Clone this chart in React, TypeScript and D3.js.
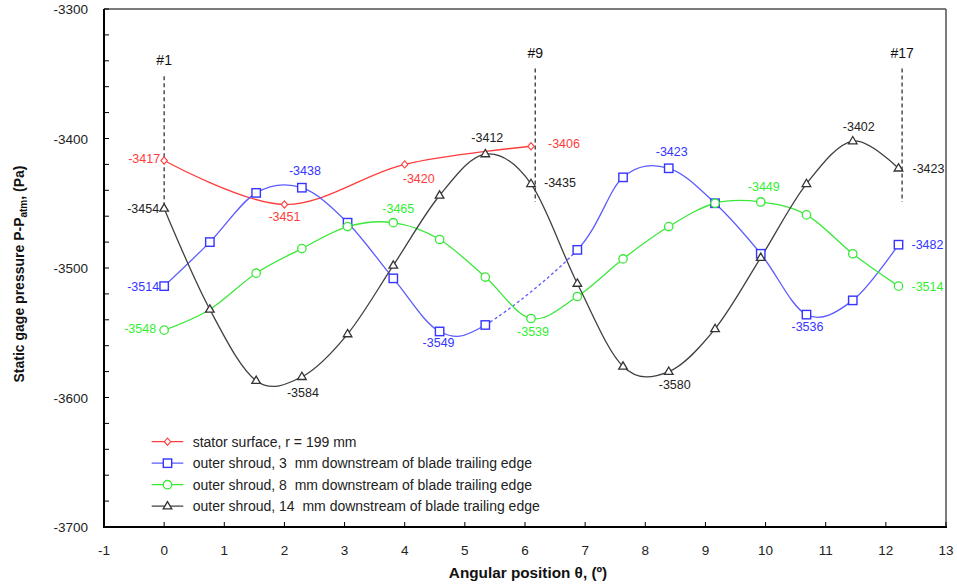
import React from "react";
import * as d3 from "d3";

// ---------- data ----------
const positions = [0, 0.76, 1.53, 2.29, 3.05, 3.81, 4.58, 5.34, 6.1, 6.87, 7.63, 8.39, 9.16, 9.92, 10.68, 11.45, 12.21];
const statorX = [0, 2.0, 4.0, 6.1];
const statorValues = [-3417, -3451, -3420, -3406];
const shroud3Values: (number | null)[] = [-3514, -3480, -3442, -3438, -3465, -3508, -3549, -3544, null, -3486, -3430, -3423, -3450, -3489, -3536, -3525, -3482];
const shroud8Values: (number | null)[] = [-3548, -3532, -3504, -3485, -3468, -3465, -3478, -3507, -3539, -3522, -3493, -3468, -3450, -3449, -3459, -3489, -3514];
const shroud14Values: (number | null)[] = [-3454, -3532, -3587, -3584, -3551, -3498, -3444, -3412, -3435, -3512, -3576, -3580, -3547, -3492, -3435, -3402, -3423];

const seriesNames = [
  "stator surface, r = 199 mm",
  "outer shroud, 3  mm downstream of blade trailing edge",
  "outer shroud, 8  mm downstream of blade trailing edge",
  "outer shroud, 14  mm downstream of blade trailing edge",
];

const xTicks = [-1, 0, 1, 2, 3, 4, 5, 6, 7, 8, 9, 10, 11, 12, 13];
const yTickLabels = [-3300, -3400, -3500, -3600, -3700];

// probe reference lines
const probeLabels = ["#1", "#9", "#17"];
const probeX = [0, 6.17, 12.27];
const probeTop = [-3352, -3346, -3346];
const probeBottom = [-3451, -3449, -3449];

// ---------- layout / style ----------
const W = 957, H = 588;
const L = 104, R = 946, T = 9, B = 527;
const FONT = "'Liberation Sans', Arial, Helvetica, sans-serif";
const RED = "#ff3c3c", BLUE = "#3535ff", BLUE_LINE = "#5b5bff", GREEN = "#3ae83a", GREEN_TXT = "#33f033", BLACK = "#404040";

// labels: series index (0 stator,1 blue,2 green,3 black), point index, dx, dy (center offset), anchor
const labelSpecs: [number, number, number, number, string][] = [
  [0, 0, -4, -2, "end"], [0, 1, 0, 12, "middle"], [0, 2, 14, 14, "middle"], [0, 3, 17, -3, "start"],
  [1, 0, -5, 0, "end"], [1, 3, 3, -17, "middle"], [1, 6, -1, 11, "middle"], [1, 11, 3, -17, "middle"], [1, 14, 1, 12, "middle"], [1, 16, 13, 0, "start"],
  [2, 0, -8, -2, "end"], [2, 5, 5, -14, "middle"], [2, 8, 2, 13, "middle"], [2, 13, 3, -15, "middle"], [2, 16, 13, 0, "start"],
  [3, 0, -5, 0, "end"], [3, 3, 1, 16, "middle"], [3, 7, 2, -17, "middle"], [3, 8, 13, -1, "start"], [3, 11, 6, 13, "middle"], [3, 15, 6, -15, "middle"], [3, 16, 14, 0, "start"],
];
const hiddenMarkers: [number, number][] = [[2, 1]];

const x = d3.scaleLinear().domain([-1, 13]).range([L, R]);
const y = d3.scaleLinear().domain([-3700, -3300]).range([B, T]);

type P = [number, number];
const pts = (xs: number[], vs: (number | null)[]): { p: P; i: number }[] =>
  vs.map((v, i) => (v == null ? null : { p: [x(xs[i]), y(v)] as P, i })).filter(Boolean) as { p: P; i: number }[];

const line = d3.line<P>().curve(d3.curveCardinal.tension(0));

function Marker({ kind, cx, cy, color }: { kind: number; cx: number; cy: number; color: string }) {
  if (kind === 0)
    return <polygon points={`${cx},${cy - 3.6} ${cx + 3.2},${cy} ${cx},${cy + 3.6} ${cx - 3.2},${cy}`} fill="#fff" stroke={color} strokeWidth={1.1} />;
  if (kind === 1) return <rect x={cx - 4.2} y={cy - 4.2} width={8.4} height={8.4} fill="#fff" stroke={color} strokeWidth={1.4} />;
  if (kind === 2) return <circle cx={cx} cy={cy} r={4.2} fill="#fff" stroke={color} strokeWidth={1.3} />;
  return <polygon points={`${cx},${cy - 4.6} ${cx + 4.3},${cy + 2.7} ${cx - 4.3},${cy + 2.7}`} fill="#fff" stroke={color} strokeWidth={1.3} />;
}

export default function App() {
  const series = [
    { xs: statorX, vs: statorValues as (number | null)[], line: RED, mark: RED, txt: RED },
    { xs: positions, vs: shroud3Values, line: BLUE_LINE, mark: BLUE, txt: BLUE },
    { xs: positions, vs: shroud8Values, line: GREEN, mark: GREEN, txt: GREEN_TXT },
    { xs: positions, vs: shroud14Values, line: BLACK, mark: "#333", txt: "#222" },
  ];
  const gapA = x(positions[7]);
  const gapB = x(positions[9]);
  const minorTicks = d3.range(-3700, -3299, 20);

  return (
    <svg width={W} height={H} style={{ position: "absolute", left: 0, top: 0, background: "#fff" }} fontFamily={FONT}>
      <defs>
        <clipPath id="solidClip">
          <rect x={0} y={0} width={gapA} height={H} />
          <rect x={gapB} y={0} width={W - gapB} height={H} />
        </clipPath>
        <clipPath id="dashClip">
          <rect x={gapA} y={0} width={gapB - gapA} height={H} />
        </clipPath>
      </defs>
      <rect x={0} y={0} width={W} height={H} fill="#fff" />

      {/* frame */}
      <line x1={L} x2={R} y1={T} y2={T} stroke="#505050" strokeWidth={1.5} />
      <line x1={R} x2={R} y1={T} y2={B} stroke="#505050" strokeWidth={1.5} />

      {/* y ticks */}
      {minorTicks.map((v) => (
        <line key={v} x1={L} x2={L + 5} y1={y(v)} y2={y(v)} stroke="#000" strokeWidth={1} />
      ))}
      {yTickLabels.map((v) => (
        <text key={v} x={88} y={y(v) + 5} textAnchor="end" fontSize={13.5} fill="#222">{v}</text>
      ))}
      {/* x ticks */}
      {xTicks.map((t) => (
        <g key={t}>
          <line x1={x(t)} x2={x(t)} y1={B} y2={B - 5} stroke="#000" strokeWidth={1} />
          <text x={x(t)} y={555} textAnchor="middle" fontSize={13.5} fill="#222">{t}</text>
        </g>
      ))}
      <line x1={L} x2={L} y1={T} y2={B + 1} stroke="#000" strokeWidth={2} />
      <line x1={L - 1} x2={R + 1} y1={B} y2={B} stroke="#000" strokeWidth={2} />

      {/* probe lines */}
      {probeLabels.map((lab, i) => (
        <g key={lab}>
          <line x1={x(probeX[i])} x2={x(probeX[i])} y1={y(probeTop[i])} y2={y(probeBottom[i])} stroke="#333" strokeWidth={1.3} strokeDasharray="4,3" />
          <text x={x(probeX[i])} y={y(probeTop[i]) - 11} textAnchor="middle" fontSize={14} fill="#111">{lab}</text>
        </g>
      ))}

      {/* series lines */}
      {series.map((s, si) => {
        const p = pts(s.xs, s.vs).map((d) => d.p);
        const d = line(p) || "";
        if (si === 1)
          return (
            <g key={si}>
              <path d={d} fill="none" stroke={s.line} strokeWidth={1.3} clipPath="url(#solidClip)" />
              <path d={d} fill="none" stroke={s.line} strokeWidth={1.3} strokeDasharray="3,2.5" clipPath="url(#dashClip)" />
            </g>
          );
        return <path key={si} d={d} fill="none" stroke={s.line} strokeWidth={1.3} />;
      })}

      {/* markers */}
      {series.map((s, si) =>
        pts(s.xs, s.vs)
          .filter((d) => !hiddenMarkers.some(([a, b]) => a === si && b === d.i))
          .map((d) => <Marker key={`${si}-${d.i}`} kind={si} cx={d.p[0]} cy={d.p[1]} color={s.mark} />)
      )}

      {/* data labels */}
      {labelSpecs.map(([si, i, dx, dy, anchor]) => {
        const s = series[si];
        const v = s.vs[i] as number;
        return (
          <text key={`l${si}-${i}`} x={x(s.xs[i]) + dx} y={y(v) + dy + 4.5} textAnchor={anchor as any} fontSize={12.5} fill={s.txt}>
            {v}
          </text>
        );
      })}

      {/* legend */}
      {seriesNames.map((name, i) => {
        const ly = 441.7 + i * 21.5;
        return (
          <g key={name}>
            <line x1={151.7} x2={183.3} y1={ly} y2={ly} stroke={series[i].line} strokeWidth={1.3} />
            <Marker kind={i} cx={167.5} cy={ly} color={series[i].mark} />
            <text x={192.7} y={ly + 5} fontSize={14} fill="#222" style={{ whiteSpace: "pre" }}>{name}</text>
          </g>
        );
      })}

      {/* axis titles */}
      <text x={528} y={578} textAnchor="middle" fontSize={15.3} fontWeight="bold" fill="#111">Angular position θ, (º)</text>
      <text transform="translate(23.5,274) rotate(-90)" textAnchor="middle" fontSize={14} fontWeight="bold" fill="#111">
        Static gage pressure P-P<tspan fontSize={10} dy={3}>atm</tspan><tspan dy={-3}>, (Pa)</tspan>
      </text>
    </svg>
  );
}
